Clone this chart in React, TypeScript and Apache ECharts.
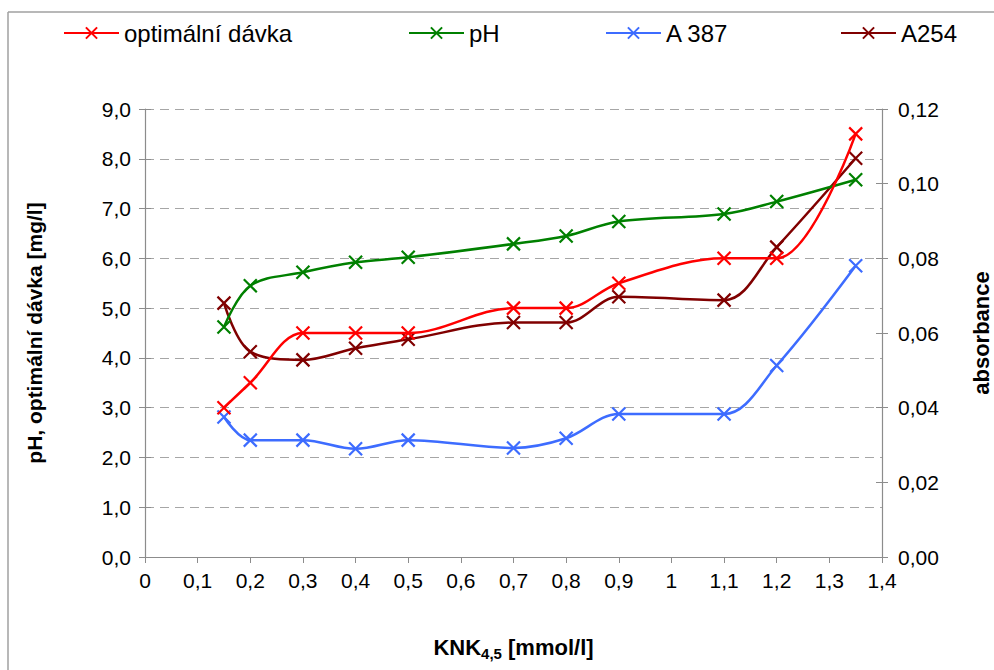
import React, { useEffect, useRef } from "react";
import * as echarts from "echarts";

const xValues = [0.15, 0.2, 0.3, 0.4, 0.5, 0.7, 0.8, 0.9, 1.1, 1.2, 1.35];
const doseValues = [3.0, 3.5, 4.5, 4.5, 4.5, 5.0, 5.0, 5.5, 6.0, 6.0, 8.5];
const phValues = [4.62, 5.45, 5.72, 5.92, 6.02, 6.29, 6.45, 6.74, 6.89, 7.14, 7.58];
const a387Values = [0.0375, 0.0313, 0.0313, 0.029, 0.0313, 0.0292, 0.0318, 0.0383, 0.0383, 0.0513, 0.078];
const a254Values = [0.068, 0.055, 0.0528, 0.0559, 0.0583, 0.0628, 0.0628, 0.0697, 0.0688, 0.083, 0.1068];

const seriesNames = ["optimální dávka", "pH", "A 387", "A254"];
const seriesColors = ["#ff0000", "#008000", "#3d6cff", "#800000"];
const legendLefts = [63, 408, 605, 840];

const FONT = "'Liberation Sans', Arial, sans-serif";
const CROSS = "path://M0,0L10,10M0,10L10,0";

const comma = (v: number, d: number) => v.toFixed(d).replace(".", ",");

export default function App() {
  const ref = useRef<HTMLDivElement>(null);
  useEffect(() => {
    if (!ref.current) return;
    document.body.style.margin = "0";
    document.body.style.overflow = "hidden";
    const chart = echarts.init(ref.current, null, { renderer: "svg" });
    const W = chart.getWidth();
    const H = chart.getHeight();
    const pair = (ys: number[]) => xValues.map((x, i) => [x, ys[i]]);
    const datasets = [
      { data: doseValues, axis: 0 },
      { data: phValues, axis: 0 },
      { data: a387Values, axis: 1 },
      { data: a254Values, axis: 1 },
    ];
    const series = datasets.map((d, i) => ({
      name: seriesNames[i],
      type: "line",
      yAxisIndex: d.axis,
      data: pair(d.data),
      smooth: 0.35,
      symbol: CROSS,
      symbolSize: 13,
      showAllSymbol: true,
      lineStyle: { color: seriesColors[i], width: 2.5 },
      itemStyle: { color: seriesColors[i], borderColor: seriesColors[i], borderWidth: 2.2 },
      z: 10 - i,
    }));
    const axisGray = "#8c8c8c";
    chart.setOption({
      animation: false,
      backgroundColor: "#ffffff",
      textStyle: { fontFamily: FONT },
      graphic: [
        {
          type: "line",
          shape: { x1: 8, y1: 12, x2: W, y2: 12 },
          style: { stroke: "#a0a0a0", lineWidth: 1.5 },
          silent: true,
        },
        {
          type: "line",
          shape: { x1: 8, y1: 12, x2: 8, y2: H },
          style: { stroke: "#a0a0a0", lineWidth: 1.5 },
          silent: true,
        },
      ],
      legend: seriesNames.map((n, i) => ({
        data: [n],
        left: legendLefts[i],
        top: 21,
        padding: 0,
        itemWidth: 55,
        itemHeight: 14,
        textStyle: { fontSize: 24, color: "#000", fontFamily: FONT },
      })),
      grid: { left: 145, right: 112, top: 109, bottom: 113, containLabel: false, outerBoundsMode: "none" },
      xAxis: {
        type: "value",
        min: 0,
        max: 1.4,
        interval: 0.1,
        name: "{b|KNK}{s|4,5}{b| [mmol/l]}",
        nameLocation: "middle",
        nameGap: 77,
        nameTextStyle: {
          rich: {
            b: { fontSize: 22, fontWeight: "bold", color: "#000", fontFamily: FONT },
            s: { fontSize: 15, fontWeight: "bold", color: "#000", fontFamily: FONT, padding: [12, 0, 0, 0] },
          },
        },
        axisLine: { lineStyle: { color: axisGray, width: 1.2 } },
        axisTick: { show: true, inside: false, length: 6, lineStyle: { color: axisGray } },
        axisLabel: {
          fontSize: 21,
          color: "#000",
          margin: 13,
          fontFamily: FONT,
          formatter: (v: number) => String(+v.toFixed(1)).replace(".", ","),
        },
        splitLine: { show: false },
      },
      yAxis: [
        {
          type: "value",
          position: "left",
          min: 0,
          max: 9,
          interval: 1,
          name: "pH, optimální dávka [mg/l]",
          nameLocation: "middle",
          nameGap: 100,
          nameTextStyle: { fontSize: 21, fontWeight: "bold", color: "#000", fontFamily: FONT },
          axisLine: { show: true, lineStyle: { color: axisGray, width: 1.2 } },
          axisTick: { show: true, length: 6, lineStyle: { color: axisGray } },
          axisLabel: { fontSize: 21, color: "#000", margin: 14, fontFamily: FONT, formatter: (v: number) => comma(v, 1) },
          splitLine: { show: true, lineStyle: { color: "#a6a6a6", type: [9, 6], width: 1.2 } },
        },
        {
          type: "value",
          position: "right",
          min: 0,
          max: 0.12,
          interval: 0.02,
          name: "absorbance",
          nameLocation: "middle",
          nameGap: 88,
          nameRotate: 90,
          nameTextStyle: { fontSize: 22, fontWeight: "bold", color: "#000", fontFamily: FONT },
          axisLine: { show: true, lineStyle: { color: axisGray, width: 1.2 } },
          axisTick: { show: true, length: 6, lineStyle: { color: axisGray } },
          axisLabel: { fontSize: 21, color: "#000", margin: 16, fontFamily: FONT, formatter: (v: number) => comma(v, 2) },
          splitLine: { show: false },
        },
        {
          type: "value",
          position: "left",
          min: 0,
          max: 9,
          interval: 1,
          axisLine: { show: false },
          axisTick: { show: true, inside: true, length: 6, lineStyle: { color: axisGray } },
          axisLabel: { show: false },
          splitLine: { show: false },
        },
        {
          type: "value",
          position: "right",
          min: 0,
          max: 0.12,
          interval: 0.02,
          axisLine: { show: false },
          axisTick: { show: true, inside: true, length: 6, lineStyle: { color: axisGray } },
          axisLabel: { show: false },
          splitLine: { show: false },
        },
      ],
      series,
    });
    return () => chart.dispose();
  }, []);
  return <div ref={ref} style={{ width: 994, height: 670, background: "#fff" }} />;
}
